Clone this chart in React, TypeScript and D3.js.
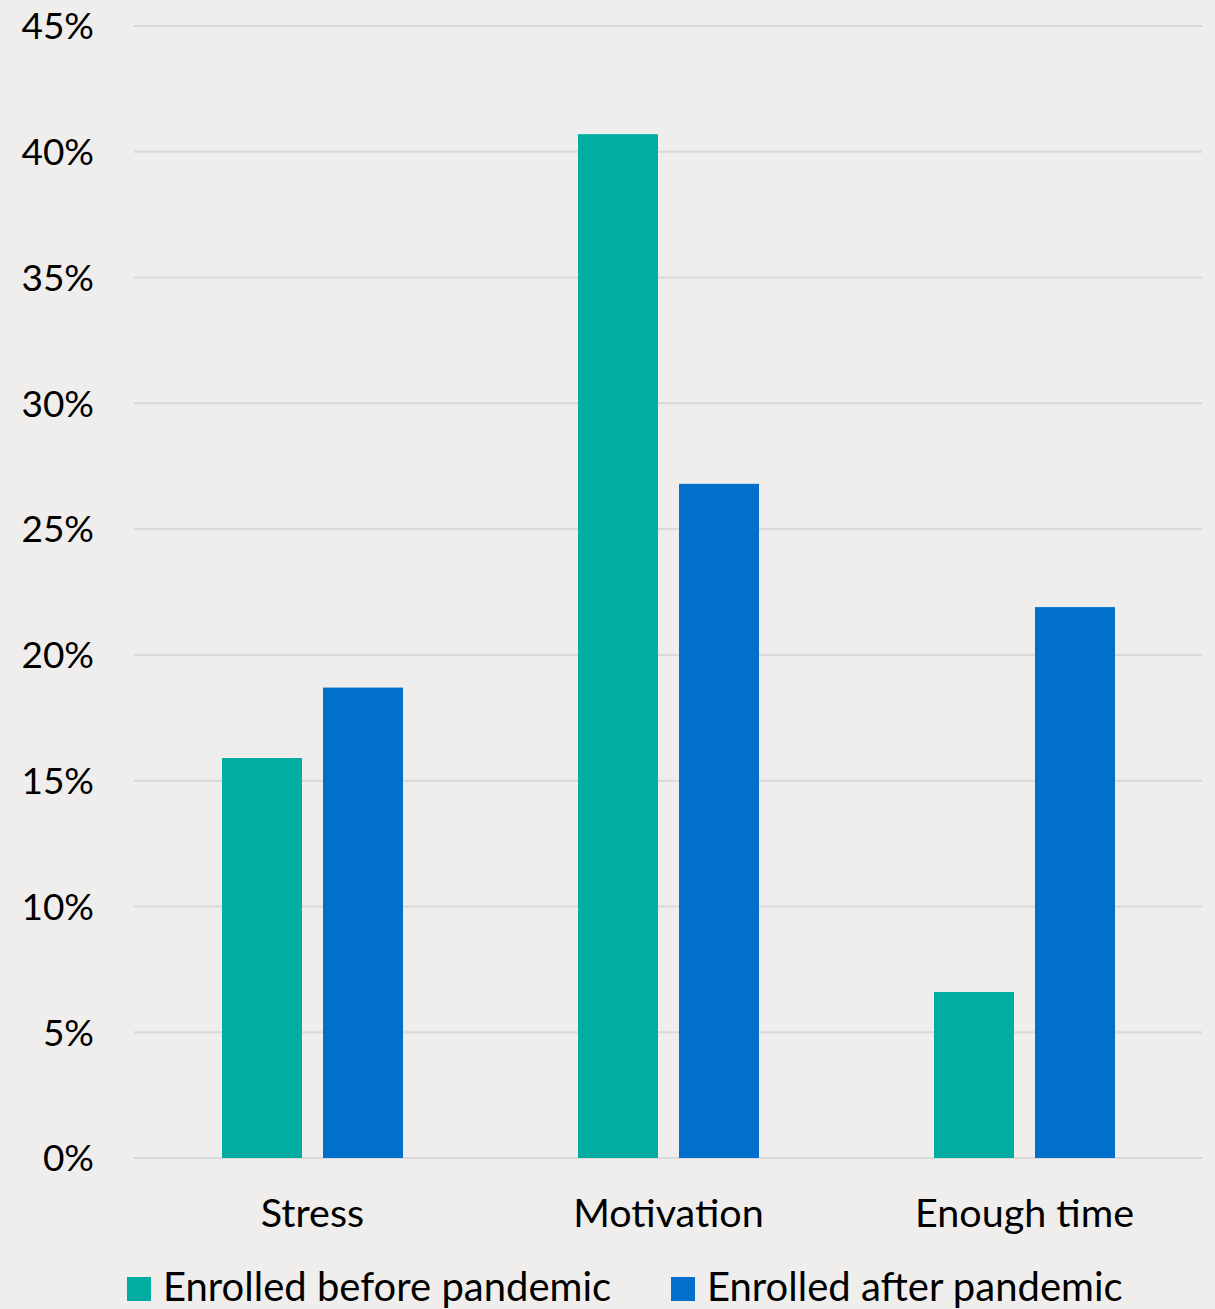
import React from "react";
import * as d3 from "d3";

const categories = ["Stress", "Motivation", "Enough time"];
const seriesNames = ["Enrolled before pandemic", "Enrolled after pandemic"];
const before = [15.9, 40.7, 6.6];
const after = [18.7, 26.8, 21.9];
const yTicks = [0, 5, 10, 15, 20, 25, 30, 35, 40, 45];
const colors = ["#00ADA0", "#0070CC"];

const W = 1215;
const H = 1309;
const FONT = "Lato, 'Open Sans', sans-serif";

export default function App() {
  const left = 134, right = 1202, top = 26, bottom = 1158;
  const y = d3.scaleLinear().domain([0, 45]).range([bottom, top]);
  const x0 = d3.scaleBand<string>().domain(categories).range([left, right]).paddingInner(0).paddingOuter(0);
  const barW = 80, gap = 21;
  const series = [before, after];
  return (
    <svg width={W} height={H} style={{ position: "absolute", left: 0, top: 0, background: "#EFEEEC" }} fontFamily={FONT}>
      <rect x={0} y={0} width={W} height={H} fill="#EFEEEC" />
      {yTicks.map((t) => (
        <g key={t}>
          <line x1={left} x2={right} y1={y(t)} y2={y(t)} stroke="#D9D9D9" strokeWidth={2} />
          <text x={94} y={y(t)} dy="0.36em" textAnchor="end" fontSize={37} fill="#000">{t}%</text>
        </g>
      ))}
      {categories.map((c, i) => {
        const cx = (x0(c) as number) + x0.bandwidth() / 2 + 0.5;
        return (
          <g key={c}>
            {series.map((s, j) => {
              const bx = cx - gap / 2 - barW + j * (barW + gap);
              return <rect key={j} x={bx} y={y(s[i])} width={barW} height={bottom - y(s[i])} fill={colors[j]} />;
            })}
            <text x={cx} y={1227} textAnchor="middle" fontSize={39.5} fill="#000">{c}</text>
          </g>
        );
      })}
      {seriesNames.map((n, j) => {
        const lx = j === 0 ? 127 : 671;
        return (
          <g key={n}>
            <rect x={lx} y={1277} width={24} height={24} fill={colors[j]} />
            <text x={lx + 36} y={1301} fontSize={40} fill="#000">{n}</text>
          </g>
        );
      })}
    </svg>
  );
}
